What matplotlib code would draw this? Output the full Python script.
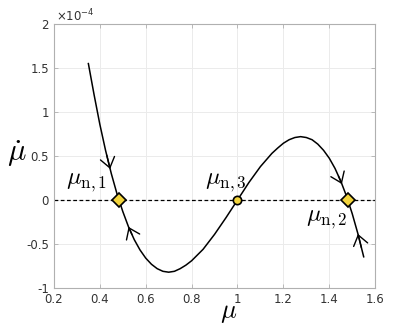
import numpy as np
import matplotlib
matplotlib.use("Agg")
import matplotlib.pyplot as plt
from matplotlib.ticker import FormatStrFormatter

plt.rcParams['mathtext.fontset'] = 'cm'
plt.rcParams['axes.unicode_minus'] = False

# Curve (mu_dot in units of 1e-4)
mu = [0.35, 0.375, 0.40, 0.425, 0.45, 0.475, 0.50, 0.525, 0.55, 0.575,
      0.60, 0.625, 0.65, 0.675, 0.70, 0.725, 0.75, 0.775, 0.80, 0.85,
      0.90, 0.95, 1.00, 1.05, 1.10, 1.15, 1.175, 1.20, 1.225, 1.25,
      1.275, 1.30, 1.325, 1.35, 1.375, 1.40, 1.425, 1.45, 1.475, 1.50,
      1.525, 1.55]
mu_dot = [1.55, 1.195, 0.86, 0.563, 0.30, 0.068, -0.13, -0.305, -0.45, -0.567,
          -0.66, -0.73, -0.78, -0.81, -0.82, -0.81, -0.78, -0.74, -0.69, -0.56,
          -0.39, -0.20, 0.0, 0.20, 0.38, 0.53, 0.59, 0.645, 0.685, 0.71,
          0.72, 0.71, 0.685, 0.635, 0.565, 0.475, 0.359, 0.215, 0.045, -0.155,
          -0.385, -0.645]

# fixed points
stable_mu = [0.483, 1.481]
unstable_mu = [1.0]
labels = [r'$\mu_{\mathrm{n},1}$', r'$\mu_{\mathrm{n},2}$', r'$\mu_{\mathrm{n},3}$']

# flow arrows: position along the curve and direction (+1 = increasing mu)
arrow_mu = [0.445, 0.525, 1.455, 1.525]
arrow_dir = [1, -1, 1, -1]

fig = plt.figure(figsize=(4.15, 3.24), dpi=100)
ax = fig.add_axes([0.130, 0.111, 0.774, 0.815])

ax.plot(mu, mu_dot, color='black', lw=1.1, zorder=3)
ax.axhline(0, color='black', ls='--', lw=0.9, dashes=(3, 2), zorder=2)

for m, d in zip(arrow_mu, arrow_dir):
    tail = m - 0.015 * d
    ax.annotate('', xy=(m, np.interp(m, mu, mu_dot)),
                xytext=(tail, np.interp(tail, mu, mu_dot)),
                arrowprops=dict(arrowstyle='->, head_length=0.55, head_width=0.4',
                                color='black', lw=1.0, mutation_scale=13,
                                shrinkA=0, shrinkB=0),
                zorder=4)

ax.plot(stable_mu, [0, 0], 'D', ms=7, mfc='#F2D43C', mec='black', mew=1.2, zorder=5)
ax.plot(unstable_mu, [0], 'o', ms=6, mfc='#F2D43C', mec='black', mew=1.2, zorder=5)

ax.text(0.432, 0.07, labels[0], fontsize=17.5, ha='right', va='bottom')
ax.text(1.478, -0.08, labels[1], fontsize=17.5, ha='right', va='top')
ax.text(1.042, 0.07, labels[2], fontsize=17.5, ha='right', va='bottom')

ax.set_xlim(0.2, 1.6)
ax.set_ylim(-1, 2)
ax.set_xticks(np.arange(0.2, 1.61, 0.2))
ax.set_yticks([-1, -0.5, 0, 0.5, 1, 1.5, 2])
ax.xaxis.set_major_formatter(FormatStrFormatter('%g'))
ax.yaxis.set_major_formatter(FormatStrFormatter('%g'))
ax.tick_params(direction='in', length=3, width=0.6, colors='#b0b0b0',
               labelcolor='#333333', labelsize=8.5, top=True, right=True)
for s in ax.spines.values():
    s.set_color('#b0b0b0')
    s.set_linewidth(0.8)
ax.grid(True, color='#ebebeb', lw=0.7)
ax.set_axisbelow(True)

ax.text(0.005, 1.0, r'$\times 10^{-4}$', transform=ax.transAxes,
        fontsize=8.5, color='#333333', ha='left', va='bottom',
        math_fontfamily='dejavusans')

ax.set_xlabel(r'$\mu$', fontsize=19)
ax.xaxis.set_label_coords(0.545, -0.112)
ax.xaxis.label.set_va('baseline')
ax.set_ylabel(r'$\dot{\mu}$', fontsize=22, rotation=0, va='center', ha='center')
ax.yaxis.set_label_coords(-0.115, 0.51)

fig.savefig('out.png', dpi=100)
